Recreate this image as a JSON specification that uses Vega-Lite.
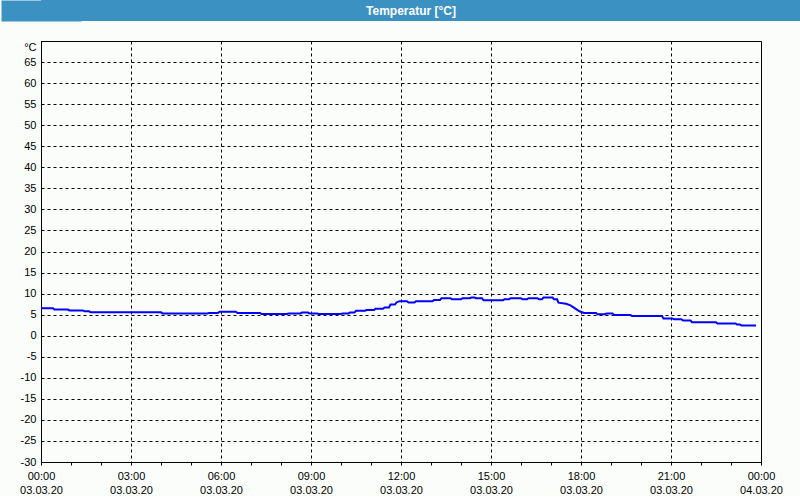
{
  "$schema": "https://vega.github.io/schema/vega-lite/v6.json",
  "padding": 0,
  "background": "#fbfdfb",
  "columns": 1,
  "align": "none",
  "spacing": 19,
  "config": {
    "font": "Liberation Sans",
    "view": {"stroke": "black", "strokeWidth": 1},
    "axis": {"labelFont": "Liberation Sans", "labelFontSize": 11, "labelColor": "black", "domainColor": "black", "tickColor": "black"}
  },
  "concat": [
    {
      "width": 760,
      "height": 21,
      "view": {"fill": "#3c91c3", "stroke": null},
      "data": {"values": [{"label": "Temperatur [°C]"}]},
      "mark": {"type": "text", "color": "white", "font": "Liberation Sans", "fontWeight": "bold", "fontSize": 12, "align": "center", "baseline": "middle", "dx": -10},
      "encoding": {
        "text": {"field": "label"},
        "y": {
          "datum": 0,
          "type": "quantitative",
          "scale": {"domain": [-1, 1]},
          "axis": {"title": null, "labels": false, "ticks": false, "grid": false, "domainWidth": 80, "domainColor": "#3c91c3"}
        }
      }
    },
    {
      "width": 720,
      "height": 421,
      "view": {"stroke": "black", "strokeWidth": 1},
      "data": {"values": [
        {"t": "2020-03-03T00:00Z", "v": 6.5},
        {"t": "2020-03-03T00:24Z", "v": 6.5},
        {"t": "2020-03-03T00:27Z", "v": 6.2},
        {"t": "2020-03-03T00:54Z", "v": 6.2},
        {"t": "2020-03-03T00:57Z", "v": 6.0},
        {"t": "2020-03-03T01:24Z", "v": 6.0},
        {"t": "2020-03-03T01:27Z", "v": 5.8},
        {"t": "2020-03-03T01:36Z", "v": 5.8},
        {"t": "2020-03-03T01:39Z", "v": 5.55},
        {"t": "2020-03-03T04:00Z", "v": 5.55},
        {"t": "2020-03-03T04:03Z", "v": 5.3},
        {"t": "2020-03-03T05:33Z", "v": 5.3},
        {"t": "2020-03-03T05:36Z", "v": 5.4},
        {"t": "2020-03-03T05:54Z", "v": 5.4},
        {"t": "2020-03-03T05:57Z", "v": 5.7},
        {"t": "2020-03-03T06:30Z", "v": 5.7},
        {"t": "2020-03-03T06:33Z", "v": 5.4},
        {"t": "2020-03-03T07:18Z", "v": 5.4},
        {"t": "2020-03-03T07:21Z", "v": 5.15},
        {"t": "2020-03-03T08:12Z", "v": 5.15},
        {"t": "2020-03-03T08:15Z", "v": 5.3},
        {"t": "2020-03-03T08:39Z", "v": 5.3},
        {"t": "2020-03-03T08:42Z", "v": 5.5},
        {"t": "2020-03-03T08:54Z", "v": 5.5},
        {"t": "2020-03-03T08:57Z", "v": 5.3},
        {"t": "2020-03-03T09:12Z", "v": 5.3},
        {"t": "2020-03-03T09:15Z", "v": 5.15},
        {"t": "2020-03-03T10:00Z", "v": 5.15},
        {"t": "2020-03-03T10:03Z", "v": 5.3},
        {"t": "2020-03-03T10:15Z", "v": 5.3},
        {"t": "2020-03-03T10:18Z", "v": 5.5},
        {"t": "2020-03-03T10:27Z", "v": 5.5},
        {"t": "2020-03-03T10:30Z", "v": 5.9},
        {"t": "2020-03-03T10:48Z", "v": 5.9},
        {"t": "2020-03-03T10:51Z", "v": 6.1},
        {"t": "2020-03-03T11:06Z", "v": 6.1},
        {"t": "2020-03-03T11:09Z", "v": 6.4},
        {"t": "2020-03-03T11:24Z", "v": 6.4},
        {"t": "2020-03-03T11:27Z", "v": 6.7},
        {"t": "2020-03-03T11:36Z", "v": 6.7},
        {"t": "2020-03-03T11:39Z", "v": 7.4},
        {"t": "2020-03-03T11:48Z", "v": 7.4},
        {"t": "2020-03-03T11:51Z", "v": 7.9},
        {"t": "2020-03-03T11:57Z", "v": 8.2},
        {"t": "2020-03-03T12:12Z", "v": 8.2},
        {"t": "2020-03-03T12:15Z", "v": 7.9},
        {"t": "2020-03-03T12:27Z", "v": 7.9},
        {"t": "2020-03-03T12:30Z", "v": 8.2},
        {"t": "2020-03-03T13:03Z", "v": 8.2},
        {"t": "2020-03-03T13:06Z", "v": 8.5},
        {"t": "2020-03-03T13:18Z", "v": 8.5},
        {"t": "2020-03-03T13:21Z", "v": 8.9},
        {"t": "2020-03-03T13:39Z", "v": 8.9},
        {"t": "2020-03-03T13:42Z", "v": 8.65},
        {"t": "2020-03-03T14:00Z", "v": 8.65},
        {"t": "2020-03-03T14:03Z", "v": 8.9},
        {"t": "2020-03-03T14:18Z", "v": 8.9},
        {"t": "2020-03-03T14:21Z", "v": 9.1},
        {"t": "2020-03-03T14:27Z", "v": 9.1},
        {"t": "2020-03-03T14:30Z", "v": 8.9},
        {"t": "2020-03-03T14:42Z", "v": 8.9},
        {"t": "2020-03-03T14:45Z", "v": 8.4},
        {"t": "2020-03-03T15:24Z", "v": 8.4},
        {"t": "2020-03-03T15:27Z", "v": 8.65},
        {"t": "2020-03-03T15:36Z", "v": 8.65},
        {"t": "2020-03-03T15:39Z", "v": 8.9},
        {"t": "2020-03-03T16:00Z", "v": 8.9},
        {"t": "2020-03-03T16:03Z", "v": 8.65},
        {"t": "2020-03-03T16:12Z", "v": 8.65},
        {"t": "2020-03-03T16:15Z", "v": 8.9},
        {"t": "2020-03-03T16:33Z", "v": 8.9},
        {"t": "2020-03-03T16:36Z", "v": 8.65},
        {"t": "2020-03-03T16:42Z", "v": 8.65},
        {"t": "2020-03-03T16:45Z", "v": 9.1},
        {"t": "2020-03-03T17:03Z", "v": 9.1},
        {"t": "2020-03-03T17:06Z", "v": 8.65},
        {"t": "2020-03-03T17:12Z", "v": 8.65},
        {"t": "2020-03-03T17:15Z", "v": 7.85},
        {"t": "2020-03-03T17:30Z", "v": 7.6},
        {"t": "2020-03-03T17:39Z", "v": 7.2},
        {"t": "2020-03-03T17:48Z", "v": 6.5},
        {"t": "2020-03-03T17:57Z", "v": 5.8},
        {"t": "2020-03-03T18:06Z", "v": 5.4},
        {"t": "2020-03-03T18:30Z", "v": 5.4},
        {"t": "2020-03-03T18:33Z", "v": 5.1},
        {"t": "2020-03-03T18:48Z", "v": 5.1},
        {"t": "2020-03-03T18:51Z", "v": 5.3},
        {"t": "2020-03-03T19:03Z", "v": 5.3},
        {"t": "2020-03-03T19:06Z", "v": 4.9},
        {"t": "2020-03-03T19:39Z", "v": 4.9},
        {"t": "2020-03-03T19:42Z", "v": 4.7},
        {"t": "2020-03-03T20:42Z", "v": 4.7},
        {"t": "2020-03-03T20:45Z", "v": 4.1},
        {"t": "2020-03-03T21:03Z", "v": 4.1},
        {"t": "2020-03-03T21:06Z", "v": 3.9},
        {"t": "2020-03-03T21:21Z", "v": 3.9},
        {"t": "2020-03-03T21:24Z", "v": 3.6},
        {"t": "2020-03-03T21:39Z", "v": 3.6},
        {"t": "2020-03-03T21:42Z", "v": 3.2},
        {"t": "2020-03-03T22:30Z", "v": 3.2},
        {"t": "2020-03-03T22:33Z", "v": 2.9},
        {"t": "2020-03-03T23:09Z", "v": 2.9},
        {"t": "2020-03-03T23:12Z", "v": 2.65},
        {"t": "2020-03-03T23:18Z", "v": 2.65},
        {"t": "2020-03-03T23:21Z", "v": 2.45},
        {"t": "2020-03-03T23:50Z", "v": 2.45}
      ]},
      "mark": {"type": "line", "color": "#0000ff", "strokeWidth": 2},
      "encoding": {
        "x": {
          "field": "t",
          "type": "temporal",
          "scale": {"type": "utc", "domain": [1583193600000, 1583280000000]},
          "axis": {
            "title": null,
            "values": [1583193600000, 1583197200000, 1583200800000, 1583204400000, 1583208000000, 1583211600000, 1583215200000, 1583218800000, 1583222400000, 1583226000000, 1583229600000, 1583233200000, 1583236800000, 1583240400000, 1583244000000, 1583247600000, 1583251200000, 1583254800000, 1583258400000, 1583262000000, 1583265600000, 1583269200000, 1583272800000, 1583276400000, 1583280000000],
            "labelExpr": "utchours(datum.value) % 3 == 0 ? [utcFormat(datum.value, '%H:%M'), utcFormat(datum.value, '%d.%m.%y')] : ''",
            "labelOverlap": false,
            "labelFlush": false,
            "labelPadding": 5,
            "labelLineHeight": 14,
            "labelBaseline": "top",
            "tickSize": 3,
            "grid": true,
            "gridColor": "black",
            "gridDash": [3, 3],
            "gridOpacity": {"condition": {"test": "utchours(datum.value) % 3 == 0", "value": 1}, "value": 0}
          }
        },
        "y": {
          "field": "v",
          "type": "quantitative",
          "scale": {"domain": [-30, 70], "nice": false, "zero": false},
          "axis": {
            "title": null,
            "values": [-30, -25, -20, -15, -10, -5, 0, 5, 10, 15, 20, 25, 30, 35, 40, 45, 50, 55, 60, 65, 70],
            "labelExpr": "datum.value == 70 ? '°C' : '' + datum.value",
            "labelBaseline": {"condition": {"test": "datum.value == 70", "value": "top"}, "value": "middle"},
            "labelOverlap": false,
            "labelFlush": false,
            "labelPadding": 5,
            "ticks": false,
            "minExtent": 40,
            "maxExtent": 40,
            "grid": true,
            "gridColor": "black",
            "gridDash": [3, 3]
          }
        }
      }
    }
  ]
}
